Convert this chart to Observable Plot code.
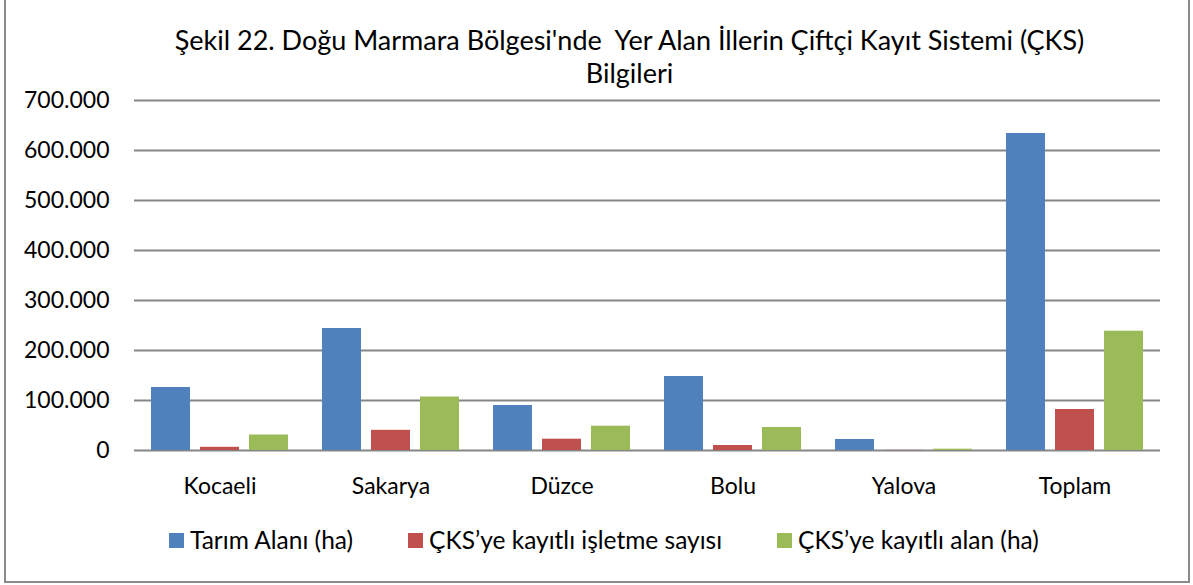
<!DOCTYPE html>
<html>
<head>
<meta charset="utf-8">
<script src="https://cdn.jsdelivr.net/npm/d3@7"></script>
<script src="https://cdn.jsdelivr.net/npm/@observablehq/plot@0.6"></script>
<style>
  html, body { margin: 0; padding: 0; background: #fff; }
  body { width: 1193px; height: 585px; position: relative; overflow: hidden; font-family: Lato, "Open Sans", sans-serif; color: #000; }
  #frame { position: absolute; left: 4px; top: -3px; width: 1182px; height: 582px; border: 2px solid #8a8a8a; box-sizing: content-box; }
  #title { position: absolute; left: 33px; top: 23px; width: 1193px; text-align: center; font-size: 27px; line-height: 33px; white-space: pre; }
  #chart { position: absolute; left: 0; top: 90px; }
  #legend { position: absolute; left: 169px; top: 525px; display: flex; align-items: center; gap: 55px; font-size: 24.5px; line-height: 30px; white-space: nowrap; }
  .item { display: flex; align-items: center; }
  .sw { width: 15px; height: 15px; margin-right: 6px; display: inline-block; }
</style>
</head>
<body>
<div id="frame"></div>
<div id="title"></div>
<div id="chart"></div>
<div id="legend"></div>
<script>
// ---- data ----
const titleLines = ["Şekil 22. Doğu Marmara Bölgesi'nde  Yer Alan İllerin Çiftçi Kayıt Sistemi (ÇKS)", "Bilgileri"];
const categories = ["Kocaeli", "Sakarya", "Düzce", "Bolu", "Yalova", "Toplam"];
const seriesNames = ["Tarım Alanı (ha)", "ÇKS’ye kayıtlı işletme sayısı", "ÇKS’ye kayıtlı alan (ha)"];
const tarimAlani = [126000, 244000, 90000, 148000, 22000, 634000];
const cksIsletme = [6400, 40400, 22600, 10000, 300, 82000];
const cksAlan = [31000, 107000, 48600, 46000, 2600, 238600];
const seriesColors = ["#4F81BD", "#C0504D", "#9BBB59"];
const yTicks = [0, 100000, 200000, 300000, 400000, 500000, 600000, 700000];

// ---- build table ----
const seriesValues = [tarimAlani, cksIsletme, cksAlan];
const rows = categories.flatMap((c, i) =>
  seriesNames.map((s, j) => ({ cat: c, ser: s, val: seriesValues[j][i] }))
);

const trFmt = d3.formatLocale({ decimal: ",", thousands: ".", grouping: [3], currency: ["₺", ""] }).format(",.0f");

document.getElementById("title").textContent = titleLines.join("\n");

const chart = Plot.plot({
  width: 1193,
  height: 420,
  marginLeft: 133,
  marginRight: 33,
  marginTop: 10,
  marginBottom: 60,
  style: { fontFamily: "Lato, sans-serif", fontSize: "23px", color: "#000", background: "transparent", overflow: "visible" },
  fx: { domain: categories, padding: 0, label: null, axis: "bottom", tickSize: 0, tickPadding: 27 },
  x: { domain: seriesNames, axis: null, paddingInner: 0.2, paddingOuter: 0.3117 },
  y: { domain: [0, 700000], ticks: yTicks, tickFormat: trFmt, label: null, tickSize: 0, tickPadding: 25 },
  color: { domain: seriesNames, range: seriesColors },
  marks: [
    Plot.gridY(yTicks, { stroke: "#868686", strokeWidth: 2, strokeOpacity: 1 }),
    Plot.barY(rows, { fx: "cat", x: "ser", y: "val", fill: "ser" })
  ]
});
document.getElementById("chart").appendChild(chart);

const legend = document.getElementById("legend");
seriesNames.forEach((s, j) => {
  const item = document.createElement("div");
  item.className = "item";
  const sw = document.createElement("span");
  sw.className = "sw";
  sw.style.background = seriesColors[j];
  const tx = document.createElement("span");
  tx.textContent = s;
  item.appendChild(sw);
  item.appendChild(tx);
  legend.appendChild(item);
});
</script>
</body>
</html>
